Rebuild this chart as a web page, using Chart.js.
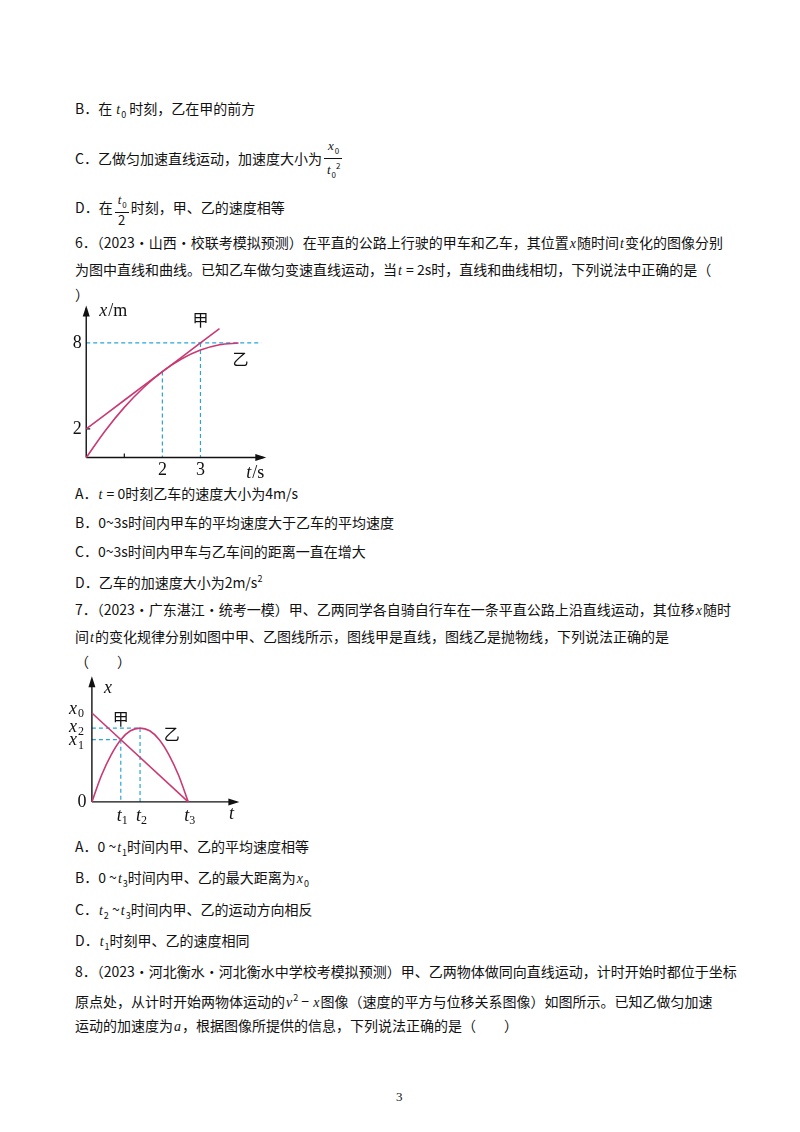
<!DOCTYPE html>
<html><head><meta charset="utf-8">
<script src="https://cdn.jsdelivr.net/npm/chart.js@4"></script>
<style>
body{margin:0;width:800px;height:1132px;background:#fff;position:relative;font-family:"Liberation Serif","Noto Sans CJK SC",serif;font-size:14px;color:#111;}
.t{position:absolute;left:75px;white-space:nowrap;line-height:20px;}
.cj{font-family:"Noto Sans CJK SC",sans-serif;}
i{font-family:"Liberation Serif",serif;margin:0 1px;}
canvas{position:absolute;}
.fr{display:inline-block;vertical-align:middle;text-align:center;font-size:13px;line-height:14px;margin:0 2px;}
.fr span{display:block;padding:0 2px;}
.fr span:first-child{border-bottom:1px solid #111;}
</style></head><body>
<div class="t cj" style="top:98px">B．在 <i>t</i><sub style="font-size:9px">0</sub> 时刻，乙在甲的前方</div>
<div class="t cj" style="top:138px">C．乙做匀加速直线运动，加速度大小为<span class="fr"><span><i>x</i><sub style="font-size:8px">0</sub></span><span><i>t</i><sub style="font-size:8px">0</sub><sup style="font-size:8px">2</sup></span></span></div>
<div class="t cj" style="top:192px">D．在<span class="fr"><span><i>t</i><sub style="font-size:8px">0</sub></span><span>2</span></span>时刻，甲、乙的速度相等</div>
<div class="t cj" style="top:232px">6．（2023·山西·校联考模拟预测）在平直的公路上行驶的甲车和乙车，其位置<i>x</i>随时间<i>t</i>变化的图像分别</div>
<div class="t cj" style="top:259px">为图中直线和曲线。已知乙车做匀变速直线运动，当<i>t</i> = 2s时，直线和曲线相切，下列说法中正确的是（</div>
<div class="t cj" style="top:284px">）</div>
<div class="t cj" style="top:483px">A．<i>t</i> = 0时刻乙车的速度大小为4m/s</div>
<div class="t cj" style="top:512px">B．0~3s时间内甲车的平均速度大于乙车的平均速度</div>
<div class="t cj" style="top:541px">C．0~3s时间内甲车与乙车间的距离一直在增大</div>
<div class="t cj" style="top:569px">D．乙车的加速度大小为2m/s<sup style="font-size:9px">2</sup></div>
<div class="t cj" style="top:599px">7．（2023·广东湛江·统考一模）甲、乙两同学各自骑自行车在一条平直公路上沿直线运动，其位移<i>x</i>随时</div>
<div class="t cj" style="top:626px">间<i>t</i>的变化规律分别如图中甲、乙图线所示，图线甲是直线，图线乙是抛物线，下列说法正确的是</div>
<div class="t cj" style="top:651px">（　　）</div>
<div class="t cj" style="top:836px">A．0 ~<i>t</i><sub style="font-size:9px">1</sub>时间内甲、乙的平均速度相等</div>
<div class="t cj" style="top:867px">B．0 ~<i>t</i><sub style="font-size:9px">3</sub>时间内甲、乙的最大距离为<i>x</i><sub style="font-size:9px">0</sub></div>
<div class="t cj" style="top:899px">C．<i>t</i><sub style="font-size:9px">2</sub> ~<i>t</i><sub style="font-size:9px">3</sub>时间内甲、乙的运动方向相反</div>
<div class="t cj" style="top:930px">D．<i>t</i><sub style="font-size:9px">1</sub>时刻甲、乙的速度相同</div>
<div class="t cj" style="top:961px">8．（2023·河北衡水·河北衡水中学校考模拟预测）甲、乙两物体做同向直线运动，计时开始时都位于坐标</div>
<div class="t cj" style="top:988px">原点处，从计时开始两物体运动的<i>v</i><sup style="font-size:9px">2</sup> − <i>x</i>图像（速度的平方与位移关系图像）如图所示。已知乙做匀加速</div>
<div class="t cj" style="top:1015px">运动的加速度为<i>a</i>，根据图像所提供的信息，下列说法正确的是（　　）</div>
<div class="t" style="top:1087px;left:396px;font-size:13px">3</div>
<canvas id="c1" style="left:71px;top:300px;width:198px;height:179px"></canvas>
<canvas id="c2" style="left:63px;top:673px;width:183px;height:160px"></canvas>
<script>
// Chart 1 data (t in s, x in m)
const c1T = [0,0.5,1,1.5,2,2.5,3,3.5,4];
const c1Jia = [2,3,4,5,6,7,8,9];
const c1JiaT = [0,0.5,1,1.5,2,2.5,3,3.5];
const c1Yi = [0,1.875,3.5,4.875,6,6.875,7.5,7.875,8];
const c1YTicks = [2,8];
const c1XTicks = [2,3];
// Chart 2 data (normalized)
const c2T = [0,0.1,0.2,0.3,0.4,0.5,0.6,0.7,0.8,0.9,1];
const c2Yi = [0,0.3,0.53,0.7,0.8,0.83,0.8,0.7,0.53,0.3,0];
const c2Jia = [1,0];
const c2JiaT = [0,1];
const c2Marks = {t1:0.3,t2:0.5,t3:1,x0:1,x1:0.7,x2:0.83};

const PINK='#c93a74', CYAN='#2aa5d6';
const pts=(xs,ys)=>xs.map((x,i)=>({x:x,y:ys[i]}));
function arrowAxes(ctx,x0,y0,x1,y1){
  ctx.save();ctx.strokeStyle='#111';ctx.fillStyle='#111';ctx.lineWidth=1.4;
  ctx.beginPath();ctx.moveTo(x0,y0);ctx.lineTo(x1,y1);ctx.stroke();
  const a=Math.atan2(y1-y0,x1-x0);ctx.beginPath();ctx.moveTo(x1+3*Math.cos(a),y1+3*Math.sin(a));
  ctx.lineTo(x1-8*Math.cos(a)+3.5*Math.sin(a),y1-8*Math.sin(a)-3.5*Math.cos(a));
  ctx.lineTo(x1-8*Math.cos(a)-3.5*Math.sin(a),y1-8*Math.sin(a)+3.5*Math.cos(a));ctx.closePath();ctx.fill();ctx.restore();
}
function dash(ctx,x0,y0,x1,y1){ctx.save();ctx.strokeStyle=CYAN;ctx.lineWidth=1.2;ctx.setLineDash([4,3]);ctx.beginPath();ctx.moveTo(x0,y0);ctx.lineTo(x1,y1);ctx.stroke();ctx.restore();}
function txt(ctx,s,x,y,font,align){ctx.save();ctx.fillStyle='#111';ctx.font=font;ctx.textAlign=align||'center';ctx.textBaseline='middle';ctx.fillText(s,x,y);ctx.restore();}
const baseOpts=(xmin,xmax,ymin,ymax)=>({responsive:false,animation:false,maintainAspectRatio:false,layout:{padding:0},
  plugins:{legend:{display:false},tooltip:{enabled:false}},
  scales:{x:{type:'linear',min:xmin,max:xmax,display:false},y:{type:'linear',min:ymin,max:ymax,display:false}}});
function setup(id,w,h){const c=document.getElementById(id);const r=window.devicePixelRatio||1;c.width=w*r;c.height=h*r;return c;}
const SER='18px "Liberation Serif",serif', SERI='italic 18px "Liberation Serif",serif', CJK='16px "Noto Sans CJK SC",sans-serif';

new Chart(setup('c1',198,179),{type:'scatter',
 data:{datasets:[
  {data:pts(c1JiaT,c1Jia),showLine:true,borderColor:PINK,borderWidth:1.6,pointRadius:0,tension:0},
  {data:pts(c1T,c1Yi),showLine:true,borderColor:PINK,borderWidth:1.6,pointRadius:0,cubicInterpolationMode:'monotone'}]},
 options:baseOpts(-0.4,4.8,-1.5,11),
 plugins:[{id:'ax1',beforeDatasetsDraw(ch){const c=ch.ctx,X=ch.scales.x,Y=ch.scales.y;
   const ox=X.getPixelForValue(0),oy=Y.getPixelForValue(0);
   dash(c,ox,Y.getPixelForValue(8),X.getPixelForValue(4.6),Y.getPixelForValue(8));
   c1XTicks.forEach(t=>dash(c,X.getPixelForValue(t),Y.getPixelForValue(t===2?6:8),X.getPixelForValue(t),oy));
   arrowAxes(c,ox,oy,X.getPixelForValue(4.65),oy);arrowAxes(c,ox,oy,ox,Y.getPixelForValue(10.4));
   c.save();c.strokeStyle='#111';c.lineWidth=1.2;c.beginPath();c.moveTo(X.getPixelForValue(1),oy);c.lineTo(X.getPixelForValue(1),oy-4);c.moveTo(ox,Y.getPixelForValue(2));c.lineTo(ox+4,Y.getPixelForValue(2));c.stroke();c.restore();
  },afterDatasetsDraw(ch){const c=ch.ctx,X=ch.scales.x,Y=ch.scales.y;const ox=X.getPixelForValue(0),oy=Y.getPixelForValue(0);
   c1YTicks.forEach(v=>txt(c,String(v),ox-9,Y.getPixelForValue(v),SER));
   c1XTicks.forEach(v=>txt(c,String(v),X.getPixelForValue(v),oy+13,SER));
   txt(c,'x',ox+13,Y.getPixelForValue(10.2),SERI,'left');txt(c,'/m',ox+22,Y.getPixelForValue(10.2),SER,'left');
   txt(c,'t',X.getPixelForValue(4.2),oy+16,SERI,'left');txt(c,'/s',X.getPixelForValue(4.2)+6,oy+16,SER,'left');
   txt(c,'甲',X.getPixelForValue(3),Y.getPixelForValue(9.6),CJK);txt(c,'乙',X.getPixelForValue(4.05),Y.getPixelForValue(6.9),CJK);
  }}]});

new Chart(setup('c2',183,160),{type:'scatter',
 data:{datasets:[
  {data:pts(c2JiaT,c2Jia),showLine:true,borderColor:PINK,borderWidth:1.6,pointRadius:0,tension:0},
  {data:pts(c2T,c2Yi),showLine:true,borderColor:PINK,borderWidth:1.6,pointRadius:0,cubicInterpolationMode:'monotone'}]},
 options:baseOpts(-0.3,1.6,-0.35,1.45),
 plugins:[{id:'ax2',beforeDatasetsDraw(ch){const c=ch.ctx,X=ch.scales.x,Y=ch.scales.y,m=c2Marks;
   const ox=X.getPixelForValue(0),oy=Y.getPixelForValue(0);
   dash(c,ox,Y.getPixelForValue(m.x2),X.getPixelForValue(m.t2),Y.getPixelForValue(m.x2));
   dash(c,ox,Y.getPixelForValue(m.x1),X.getPixelForValue(m.t1),Y.getPixelForValue(m.x1));
   dash(c,X.getPixelForValue(m.t1),Y.getPixelForValue(m.x1),X.getPixelForValue(m.t1),oy);
   dash(c,X.getPixelForValue(m.t2),Y.getPixelForValue(m.x2),X.getPixelForValue(m.t2),oy);
   arrowAxes(c,ox,oy,X.getPixelForValue(1.5),oy);arrowAxes(c,ox,oy,ox,Y.getPixelForValue(1.38));
  },afterDatasetsDraw(ch){const c=ch.ctx,X=ch.scales.x,Y=ch.scales.y,m=c2Marks;const ox=X.getPixelForValue(0),oy=Y.getPixelForValue(0);
   const sub=(n,s,x,y,dx)=>{txt(c,n,x,y,SERI,'left');txt(c,s,x+dx,y+5,'12px "Liberation Serif",serif','left');};
   sub('x','0',ox-23,Y.getPixelForValue(m.x0)-4,9);sub('x','2',ox-23,Y.getPixelForValue(m.x2)-1,9);sub('x','1',ox-23,Y.getPixelForValue(m.x1)+1,9);
   txt(c,'0',ox-10,oy,SER);
   sub('t','1',X.getPixelForValue(m.t1)-4,oy+14,5);sub('t','2',X.getPixelForValue(m.t2)-4,oy+14,5);sub('t','3',X.getPixelForValue(m.t3)-4,oy+14,5);
   txt(c,'t',X.getPixelForValue(1.45),oy+12,SERI);txt(c,'x',ox+12,Y.getPixelForValue(1.28),SERI,'left');
   txt(c,'甲',X.getPixelForValue(0.3),Y.getPixelForValue(0.93),CJK);txt(c,'乙',X.getPixelForValue(0.83),Y.getPixelForValue(0.77),CJK);
  }}]});
</script></body></html>
